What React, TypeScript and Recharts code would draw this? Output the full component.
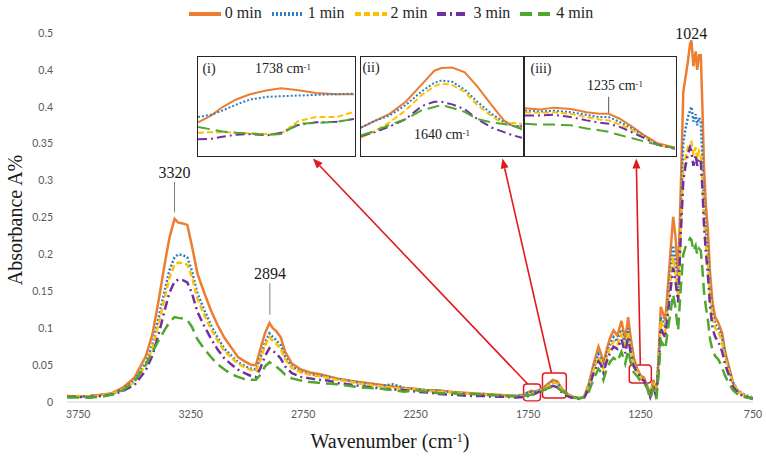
import React from "react";
import {
  Legend,
  Line,
  LineChart,
  ReferenceArea,
  ReferenceDot,
  ReferenceLine,
  XAxis,
  YAxis,
} from "recharts";

// wavenumber (cm-1) sample positions
const wavenumbers = [
  3800, 3750, 3700, 3650, 3600, 3550, 3500, 3450, 3420, 3390, 3365, 3345, 3322, 3305, 3285, 3265, 3245, 3220, 3190, 3160, 3130, 3100, 3070, 3040, 3010, 2980, 2960,
  2940, 2920, 2900, 2885, 2870, 2850, 2830, 2800, 2760, 2720, 2680, 2640, 2600, 2550, 2500, 2450, 2400, 2350, 2300, 2250,
  2200, 2150, 2100, 2050, 2000, 1950, 1900, 1850, 1800, 1770, 1750, 1735, 1720, 1700, 1680, 1660, 1640, 1620, 1600, 1580, 1560, 1540, 1520, 1500,
  1480, 1460, 1437, 1425, 1415, 1400, 1384, 1370, 1353, 1335, 1318, 1305, 1295, 1280, 1265, 1250, 1235, 1220, 1207, 1193, 1180, 1170, 1160, 1150, 1140, 1125, 1105, 1095, 1083,
  1070, 1060, 1050, 1040, 1030, 1024, 1015, 1005, 998, 990, 982, 975, 968, 960, 950, 941, 930, 918, 905, 895, 887, 875, 865, 850, 839, 820, 800, 780, 760, 750,
];

const min0 = [
  0.008, 0.007, 0.008, 0.01, 0.012, 0.02, 0.033, 0.062, 0.092, 0.142, 0.188, 0.222, 0.248, 0.243, 0.242, 0.24, 0.212, 0.174, 0.148, 0.124, 0.104, 0.087, 0.074, 0.061, 0.055, 0.05, 0.05,
  0.072, 0.093, 0.107, 0.1, 0.096, 0.088, 0.068, 0.052, 0.044, 0.04, 0.038, 0.035, 0.032, 0.029, 0.027, 0.025, 0.023, 0.021, 0.019, 0.018,
  0.016, 0.016, 0.014, 0.013, 0.012, 0.011, 0.01, 0.009, 0.008, 0.01, 0.013, 0.015, 0.014, 0.016, 0.02, 0.025, 0.03, 0.028, 0.018, 0.012, 0.008, 0.006, 0.005, 0.008,
  0.025, 0.05, 0.075, 0.065, 0.052, 0.072, 0.088, 0.097, 0.09, 0.11, 0.085, 0.115, 0.09, 0.06, 0.045, 0.036, 0.033, 0.022, 0.01, 0.03, 0.01, 0.06, 0.129, 0.12, 0.11, 0.17, 0.251, 0.225, 0.17,
  0.3, 0.42, 0.44, 0.46, 0.485, 0.49, 0.455, 0.475, 0.45, 0.47, 0.47, 0.4, 0.32, 0.27, 0.23, 0.175, 0.135, 0.115, 0.108, 0.1, 0.093, 0.07, 0.057, 0.04, 0.026, 0.016, 0.011, 0.007, 0.005, 0.005,
];

const min1 = [
  0.007, 0.007, 0.008, 0.009, 0.011, 0.018, 0.029, 0.053, 0.078, 0.118, 0.152, 0.178, 0.196, 0.2, 0.199, 0.196, 0.178, 0.147, 0.125, 0.104, 0.087, 0.072, 0.063, 0.054, 0.049, 0.045, 0.044,
  0.06, 0.08, 0.093, 0.088, 0.084, 0.077, 0.061, 0.048, 0.041, 0.038, 0.036, 0.034, 0.031, 0.029, 0.026, 0.024, 0.022, 0.024, 0.019, 0.017,
  0.016, 0.015, 0.014, 0.012, 0.011, 0.011, 0.009, 0.008, 0.008, 0.01, 0.013, 0.014, 0.014, 0.016, 0.019, 0.023, 0.027, 0.026, 0.017, 0.012, 0.008, 0.006, 0.005, 0.007,
  0.022, 0.045, 0.065, 0.058, 0.048, 0.065, 0.08, 0.088, 0.082, 0.098, 0.077, 0.1, 0.08, 0.055, 0.043, 0.034, 0.031, 0.021, 0.009, 0.027, 0.008, 0.055, 0.115, 0.108, 0.1, 0.15, 0.212, 0.19, 0.15,
  0.26, 0.35, 0.37, 0.385, 0.395, 0.4, 0.38, 0.39, 0.375, 0.385, 0.38, 0.33, 0.27, 0.235, 0.2, 0.155, 0.122, 0.105, 0.1, 0.093, 0.086, 0.065, 0.053, 0.038, 0.027, 0.017, 0.012, 0.009, 0.007, 0.006,
];

const min2 = [
  0.008, 0.008, 0.007, 0.009, 0.011, 0.017, 0.027, 0.05, 0.073, 0.11, 0.142, 0.168, 0.186, 0.189, 0.188, 0.186, 0.17, 0.14, 0.118, 0.099, 0.083, 0.069, 0.06, 0.052, 0.047, 0.043, 0.042,
  0.057, 0.076, 0.088, 0.083, 0.079, 0.072, 0.058, 0.046, 0.04, 0.037, 0.035, 0.033, 0.03, 0.028, 0.025, 0.023, 0.021, 0.019, 0.018, 0.017,
  0.015, 0.014, 0.013, 0.012, 0.011, 0.01, 0.009, 0.008, 0.007, 0.008, 0.009, 0.01, 0.012, 0.015, 0.017, 0.022, 0.026, 0.025, 0.016, 0.011, 0.007, 0.005, 0.005, 0.007,
  0.02, 0.042, 0.06, 0.055, 0.045, 0.06, 0.075, 0.082, 0.078, 0.092, 0.072, 0.095, 0.075, 0.052, 0.042, 0.033, 0.03, 0.02, 0.008, 0.026, 0.008, 0.05, 0.11, 0.102, 0.095, 0.14, 0.196, 0.176, 0.138,
  0.24, 0.31, 0.33, 0.345, 0.35, 0.352, 0.335, 0.345, 0.33, 0.34, 0.335, 0.3, 0.25, 0.215, 0.185, 0.145, 0.115, 0.1, 0.095, 0.088, 0.08, 0.06, 0.05, 0.035, 0.025, 0.016, 0.011, 0.008, 0.006, 0.005,
];

const min3 = [
  0.007, 0.007, 0.006, 0.008, 0.01, 0.015, 0.023, 0.043, 0.063, 0.095, 0.125, 0.148, 0.163, 0.166, 0.165, 0.162, 0.148, 0.122, 0.103, 0.086, 0.071, 0.059, 0.051, 0.044, 0.039, 0.035, 0.034,
  0.046, 0.062, 0.073, 0.069, 0.066, 0.059, 0.048, 0.039, 0.034, 0.032, 0.03, 0.029, 0.026, 0.024, 0.022, 0.02, 0.018, 0.017, 0.016, 0.014,
  0.013, 0.011, 0.01, 0.009, 0.008, 0.008, 0.007, 0.007, 0.006, 0.007, 0.008, 0.009, 0.011, 0.014, 0.016, 0.019, 0.022, 0.02, 0.013, 0.009, 0.006, 0.005, 0.004, 0.006,
  0.018, 0.038, 0.055, 0.05, 0.04, 0.055, 0.068, 0.075, 0.072, 0.085, 0.066, 0.088, 0.068, 0.048, 0.04, 0.032, 0.029, 0.019, 0.007, 0.022, 0.006, 0.045, 0.1, 0.093, 0.087, 0.13, 0.182, 0.165, 0.135,
  0.235, 0.3, 0.32, 0.335, 0.345, 0.34, 0.32, 0.335, 0.32, 0.33, 0.325, 0.29, 0.24, 0.205, 0.17, 0.13, 0.1, 0.088, 0.082, 0.075, 0.068, 0.052, 0.043, 0.03, 0.021, 0.013, 0.009, 0.007, 0.005, 0.005,
];

const min4 = [
  0.006, 0.006, 0.006, 0.007, 0.01, 0.016, 0.028, 0.05, 0.068, 0.085, 0.098, 0.108, 0.115, 0.114, 0.113, 0.111, 0.102, 0.085, 0.072, 0.061, 0.051, 0.044, 0.038, 0.034, 0.031, 0.03, 0.03,
  0.037, 0.048, 0.054, 0.051, 0.048, 0.043, 0.037, 0.032, 0.029, 0.027, 0.026, 0.025, 0.024, 0.022, 0.02, 0.019, 0.018, 0.016, 0.014, 0.016,
  0.014, 0.012, 0.012, 0.011, 0.011, 0.01, 0.009, 0.008, 0.008, 0.008, 0.009, 0.01, 0.011, 0.013, 0.016, 0.019, 0.021, 0.019, 0.015, 0.011, 0.008, 0.006, 0.005, 0.006,
  0.014, 0.03, 0.045, 0.04, 0.03, 0.045, 0.055, 0.06, 0.055, 0.068, 0.052, 0.07, 0.055, 0.04, 0.035, 0.028, 0.026, 0.018, 0.004, 0.018, 0.004, 0.035, 0.083, 0.078, 0.072, 0.105, 0.146, 0.128, 0.097,
  0.16, 0.2, 0.21, 0.215, 0.222, 0.22, 0.205, 0.212, 0.2, 0.208, 0.205, 0.18, 0.15, 0.13, 0.11, 0.085, 0.07, 0.062, 0.058, 0.052, 0.046, 0.036, 0.03, 0.022, 0.016, 0.011, 0.008, 0.006, 0.005, 0.004,
];

// inset (i): 1738 cm-1 region
const insetIWave = [1760, 1756, 1753, 1749, 1745, 1740, 1736, 1731, 1726, 1720, 1715];
const insetI0 = [0.01, 0.0111, 0.0123, 0.0135, 0.0143, 0.0149, 0.0152, 0.0149, 0.0145, 0.0143, 0.0143];
const insetI1 = [0.0108, 0.0112, 0.0118, 0.0127, 0.0135, 0.0139, 0.014, 0.0141, 0.0142, 0.0143, 0.0144];
const insetI2 = [0.0084, 0.0085, 0.0085, 0.0084, 0.0083, 0.0082, 0.0083, 0.0102, 0.0108, 0.0108, 0.0116];
const insetI3 = [0.0074, 0.0075, 0.0078, 0.0081, 0.0082, 0.008, 0.0084, 0.0096, 0.01, 0.0101, 0.0105];
const insetI4 = [0.0093, 0.0089, 0.0086, 0.0084, 0.0083, 0.0081, 0.0082, 0.0098, 0.0099, 0.0101, 0.0105];

// inset (ii): 1640 cm-1 region
const insetIIWave = [1680, 1672, 1664, 1655, 1646, 1639, 1635, 1629, 1622, 1615, 1607, 1600, 1595, 1590];
const insetII0 = [0.0134, 0.0155, 0.0176, 0.0213, 0.0266, 0.0308, 0.0316, 0.0318, 0.0303, 0.026, 0.0203, 0.0155, 0.0139, 0.0136];
const insetII1 = [0.0134, 0.0155, 0.0171, 0.0203, 0.0245, 0.0271, 0.0278, 0.0274, 0.025, 0.0213, 0.0176, 0.015, 0.0139, 0.0139];
const insetII2 = [0.0103, 0.0124, 0.015, 0.0187, 0.0234, 0.026, 0.0269, 0.0264, 0.0243, 0.0203, 0.0169, 0.0145, 0.0148, 0.0145];
const insetII3 = [0.0108, 0.012, 0.0137, 0.016, 0.02, 0.0213, 0.0213, 0.0205, 0.019, 0.016, 0.0134, 0.012, 0.011, 0.0103];
const insetII4 = [0.011, 0.0124, 0.0142, 0.016, 0.0187, 0.0197, 0.0203, 0.0194, 0.0182, 0.016, 0.015, 0.0145, 0.0139, 0.0129];

// inset (iii): 1235 cm-1 region
const insetIIIWave = [1300, 1290, 1282, 1271, 1261, 1253, 1247, 1240, 1232, 1224, 1216, 1205];
const insetIII0 = [0.0343, 0.0339, 0.0345, 0.0341, 0.0331, 0.0326, 0.0326, 0.0311, 0.0286, 0.0259, 0.0236, 0.0223];
const insetIII1 = [0.0336, 0.0333, 0.0336, 0.0331, 0.0323, 0.0316, 0.0316, 0.0301, 0.0281, 0.0256, 0.0231, 0.0221];
const insetIII2 = [0.0331, 0.0329, 0.0331, 0.0326, 0.0316, 0.0309, 0.0306, 0.0293, 0.0276, 0.0253, 0.0231, 0.0221];
const insetIII3 = [0.0321, 0.0321, 0.0323, 0.0316, 0.0306, 0.0299, 0.0296, 0.0286, 0.0269, 0.0251, 0.0231, 0.0219];
const insetIII4 = [0.0296, 0.0293, 0.0293, 0.0291, 0.0281, 0.0276, 0.0271, 0.0261, 0.0251, 0.0241, 0.0231, 0.0221];

const xTicks = [3750, 3250, 2750, 2250, 1750, 1250, 750];
const yTicks = [0, 0.05, 0.1, 0.15, 0.2, 0.25, 0.3, 0.35, 0.4, 0.45, 0.5];
const yTickLabels = ["0", "0.05", "0.1", "0.15", "0.2", "0.25", "0.3", "0.35", "0.4", "0.4", "0.5"];

const series = [
  { key: "m0", name: "0 min", color: "#ED7D31", dash: undefined },
  { key: "m1", name: "1 min", color: "#2E7EC4", dash: "2 2" },
  { key: "m2", name: "2 min", color: "#FFC000", dash: "6 3" },
  { key: "m3", name: "3 min", color: "#7030A0", dash: "9 4 2 4" },
  { key: "m4", name: "4 min", color: "#4EA72E", dash: "12 6" },
];

const buildRows = (w: number[], cols: number[][]) =>
  w.map((x, i) => ({ w: x, m0: cols[0][i], m1: cols[1][i], m2: cols[2][i], m3: cols[3][i], m4: cols[4][i] }));

const mainData = buildRows(wavenumbers, [min0, min1, min2, min3, min4]);
const insetIData = buildRows(insetIWave, [insetI0, insetI1, insetI2, insetI3, insetI4]);
const insetIIData = buildRows(insetIIWave, [insetII0, insetII1, insetII2, insetII3, insetII4]);
const insetIIIData = buildRows(insetIIIWave, [insetIII0, insetIII1, insetIII2, insetIII3, insetIII4]);

const SERIF = '"Liberation Serif", "Times New Roman", serif';
const RED = "#e2191f";

const tickStyle = { fontFamily: "Lato, sans-serif", fontSize: 10.5, fill: "#595959" };

function Arrow(props: any) {
  const { x1, y1, x2, y2 } = props;
  const ang = Math.atan2(y2 - y1, x2 - x1);
  const len = 10;
  const half = 4;
  const bx = x2 - len * Math.cos(ang);
  const by = y2 - len * Math.sin(ang);
  const pts = `${x2},${y2} ${bx - half * Math.sin(ang)},${by + half * Math.cos(ang)} ${bx + half * Math.sin(ang)},${by - half * Math.cos(ang)}`;
  return (
    <g>
      <line x1={x1} y1={y1} x2={bx} y2={by} stroke={RED} strokeWidth={1.6} />
      <polygon points={pts} fill={RED} />
    </g>
  );
}

function Note({ x, y, children }: { x: number; y: number; children: React.ReactNode }) {
  return (
    <div
      style={{
        position: "absolute",
        left: x,
        top: y,
        transform: "translate(-50%, -50%)",
        whiteSpace: "nowrap",
        fontFamily: SERIF,
        fontSize: 14,
        lineHeight: "16px",
        color: "#1a1a1a",
      }}
    >
      {children}
    </div>
  );
}

const Cm = ({ n }: { n: string }) => (
  <>
    {n} cm<sup style={{ fontSize: 9, verticalAlign: "top", position: "relative", top: -2 }}>-1</sup>
  </>
);

type InsetProps = {
  left: number;
  top: number;
  width: number;
  height: number;
  data: any[];
  xDomain: [number, number];
  yDomain: [number, number];
  children?: React.ReactNode;
  extra?: React.ReactNode;
};

function Inset({ left, top, width, height, data, xDomain, yDomain, children, extra }: InsetProps) {
  return (
    <div
      style={{
        position: "absolute",
        left,
        top,
        width,
        height,
        boxSizing: "border-box",
        border: "1.5px solid #262626",
        background: "#fff",
      }}
    >
      <LineChart width={width - 3} height={height - 3} data={data} margin={{ top: 0, right: 0, bottom: 0, left: 0 }}>
        <XAxis dataKey="w" type="number" domain={xDomain} reversed hide allowDataOverflow />
        <YAxis type="number" domain={yDomain} hide allowDataOverflow />
        {extra}
        {series.map((s) => (
          <Line
            key={s.key}
            dataKey={s.key}
            stroke={s.color}
            strokeDasharray={s.dash}
            strokeWidth={2}
            dot={false}
            isAnimationActive={false}
          />
        ))}
      </LineChart>
      {children}
    </div>
  );
}

export default function App() {
  return (
    <div style={{ position: "absolute", left: 0, top: 0, width: 766, height: 468, background: "#fff", fontFamily: SERIF }}>
      <LineChart width={766} height={468} data={mainData} margin={{ top: 33, right: 13, bottom: 36, left: 27 }}>
        <XAxis
          dataKey="w"
          type="number"
          domain={[750, 3800]}
          reversed
          ticks={xTicks}
          tickLine={false}
          axisLine={{ stroke: "#d9d9d9", strokeWidth: 1 }}
          tick={tickStyle}
          tickMargin={3}
          height={30}
          allowDataOverflow
        />
        <YAxis
          type="number"
          domain={[0, 0.5]}
          ticks={yTicks}
          tickFormatter={(_v: number, i: number) => yTickLabels[i]}
          axisLine={false}
          tickLine={false}
          tick={tickStyle}
          tickMargin={8}
          width={40}
        />
        <Legend
          verticalAlign="middle"
          align="center"
          iconType="plainline"
          iconSize={32}
          wrapperStyle={{ top: -2, left: 0, width: 792, fontFamily: SERIF, fontSize: 16 }}
          formatter={(value: string) => <span style={{ color: "#262626" }}>{value}</span>}
        />
        {series.map((s) => (
          <Line
            key={s.key}
            name={s.name}
            dataKey={s.key}
            stroke={s.color}
            strokeDasharray={s.dash}
            strokeWidth={2.5}
            dot={false}
            isAnimationActive={false}
          />
        ))}
        <ReferenceArea x1={1770} x2={1695} y1={0.0014} y2={0.0244} fill="none" stroke={RED} strokeWidth={1.5} radius={3} />
        <ReferenceArea x1={1686} x2={1580} y1={0.0054} y2={0.0393} fill="none" stroke={RED} strokeWidth={1.5} radius={3} />
        <ReferenceArea x1={1300} x2={1202} y1={0.0257} y2={0.05} fill="none" stroke={RED} strokeWidth={1.5} radius={3} />
        <ReferenceLine segment={[{ x: 1752, y: 0.0244 }, { x: 2707, y: 0.33 }]} shape={Arrow} />
        <ReferenceLine segment={[{ x: 1646, y: 0.0393 }, { x: 1864, y: 0.33 }]} shape={Arrow} />
        <ReferenceLine segment={[{ x: 1251, y: 0.05 }, { x: 1269, y: 0.33 }]} shape={Arrow} />
        <ReferenceLine segment={[{ x: 3322, y: 0.257 }, { x: 3322, y: 0.298 }]} stroke="#7f7f7f" strokeWidth={1} />
        <ReferenceLine segment={[{ x: 2898, y: 0.118 }, { x: 2898, y: 0.161 }]} stroke="#7f7f7f" strokeWidth={1} />
        <ReferenceDot
          x={3322}
          y={0.298}
          r={0}
          fill="none"
          stroke="none"
          label={{ value: "3320", position: "top", offset: 4, fill: "#1a1a1a", fontSize: 16, fontFamily: SERIF }}
        />
        <ReferenceDot
          x={2898}
          y={0.161}
          r={0}
          fill="none"
          stroke="none"
          label={{ value: "2894", position: "top", offset: 4, fill: "#1a1a1a", fontSize: 16, fontFamily: SERIF }}
        />
        <ReferenceDot
          x={1024}
          y={0.49}
          r={0}
          fill="none"
          stroke="none"
          label={{ value: "1024", position: "top", offset: 1, fill: "#1a1a1a", fontSize: 16, fontFamily: SERIF }}
        />
      </LineChart>

      <Inset left={197} top={56} width={159} height={101} data={insetIData} xDomain={[1715, 1760]} yDomain={[0.005, 0.02]}>
        <Note x={11} y={12}>(i)</Note>
        <Note x={85} y={12}>
          <Cm n="1738" />
        </Note>
      </Inset>
      <Inset left={360} top={56} width={164} height={101} data={insetIIData} xDomain={[1590, 1680]} yDomain={[0.005, 0.035]}>
        <Note x={10} y={11}>(ii)</Note>
        <Note x={81} y={78}>
          <Cm n="1640" />
        </Note>
      </Inset>
      <Inset
        left={524}
        top={56}
        width={153}
        height={101}
        data={insetIIIData}
        xDomain={[1205, 1300]}
        yDomain={[0.02, 0.05]}
        extra={<ReferenceLine segment={[{ x: 1247, y: 0.0328 }, { x: 1247, y: 0.0378 }]} stroke="#555" strokeWidth={1} />}
      >
        <Note x={16} y={12}>(iii)</Note>
        <Note x={90} y={29}>
          <Cm n="1235" />
        </Note>
      </Inset>

      <div
        style={{
          position: "absolute",
          left: -85,
          top: 208,
          width: 200,
          height: 24,
          lineHeight: "24px",
          textAlign: "center",
          transform: "rotate(-90deg)",
          fontFamily: SERIF,
          fontSize: 20,
          color: "#1a1a1a",
        }}
      >
        Absorbance A%
      </div>
      <div
        style={{
          position: "absolute",
          left: 0,
          width: 780,
          top: 428,
          textAlign: "center",
          fontFamily: SERIF,
          fontSize: 20,
          lineHeight: "26px",
          color: "#1a1a1a",
        }}
      >
        Wavenumber (cm<sup style={{ fontSize: 12, verticalAlign: "top", position: "relative", top: -3 }}>-1</sup>)
      </div>
    </div>
  );
}
